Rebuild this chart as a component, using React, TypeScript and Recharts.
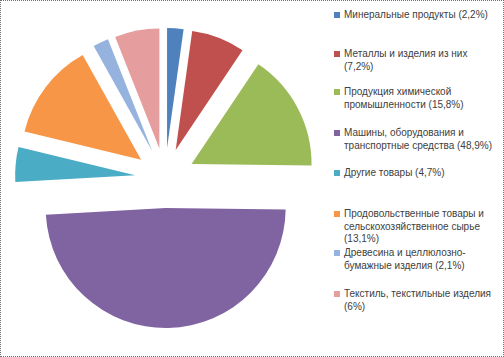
import { PieChart, Pie, Cell, Sector, Legend } from 'recharts';

const categories = [
  'Минеральные продукты',
  'Металлы и изделия из них',
  'Продукция химической промышленности',
  'Машины, оборудования и транспортные средства',
  'Другие товары',
  'Продовольственные товары и сельскохозяйственное сырье',
  'Древесина и целлюлозно-бумажные изделия',
  'Текстиль, текстильные изделия',
];
const shares = [2.2, 7.2, 15.8, 48.9, 4.7, 13.1, 2.1, 6];
const colors = ['#4F81BD', '#C0504D', '#9BBB59', '#8064A2', '#4BACC6', '#F79646', '#95B3DE', '#E59D9D'];

// vertical position of each legend entry (px from top of chart)
const legendTop = [8, 47, 85, 126, 166, 207, 246, 287];

const EXPLODE = 30;
const RAD = Math.PI / 180;

const data = categories.map((name, i) => ({
  name: `${name} (${String(shares[i]).replace('.', ',')}%)`,
  value: shares[i],
}));

// every slice pushed outwards along its mid angle
function ExplodedSector(props: any) {
  const { cx, cy, midAngle } = props;
  const dx = EXPLODE * Math.cos(-midAngle * RAD);
  const dy = EXPLODE * Math.sin(-midAngle * RAD);
  return <Sector {...props} cx={cx + dx} cy={cy + dy} stroke="none" />;
}

function LegendList() {
  return (
    <div style={{ position: 'relative', width: 162, height: 340 }}>
      {data.map((d, i) => (
        <div
          key={d.name}
          style={{
            position: 'absolute',
            top: legendTop[i],
            left: 0,
            width: 150,
            paddingLeft: 11,
            fontSize: 10,
            lineHeight: '12.5px',
            color: '#404040',
            fontFamily: '"Liberation Sans", Arial, sans-serif',
          }}
        >
          <span
            style={{
              position: 'absolute',
              left: 1,
              top: 3,
              width: 6,
              height: 6,
              background: colors[i],
            }}
          />
          {d.name}
        </div>
      ))}
    </div>
  );
}

export default function App() {
  return (
    <div
      style={{
        position: 'fixed',
        left: 0,
        top: 0,
        width: 504,
        height: 357,
        boxSizing: 'border-box',
        border: '1px dotted #6d6d6d',
        background: '#fff',
      }}
    >
      <PieChart width={502} height={355} margin={{ top: 0, right: 0, bottom: 0, left: 0 }}>
        <Pie
          data={data}
          dataKey="value"
          nameKey="name"
          cx={164}
          cy={177}
          outerRadius={120}
          startAngle={90}
          endAngle={-270}
          shape={ExplodedSector}
          isAnimationActive={false}
        >
          {data.map((d, i) => (
            <Cell key={d.name} fill={colors[i]} />
          ))}
        </Pie>
        <Legend
          layout="vertical"
          align="right"
          verticalAlign="top"
          content={<LegendList />}
          wrapperStyle={{ left: 332, top: 0, width: 162 }}
        />
      </PieChart>
    </div>
  );
}
